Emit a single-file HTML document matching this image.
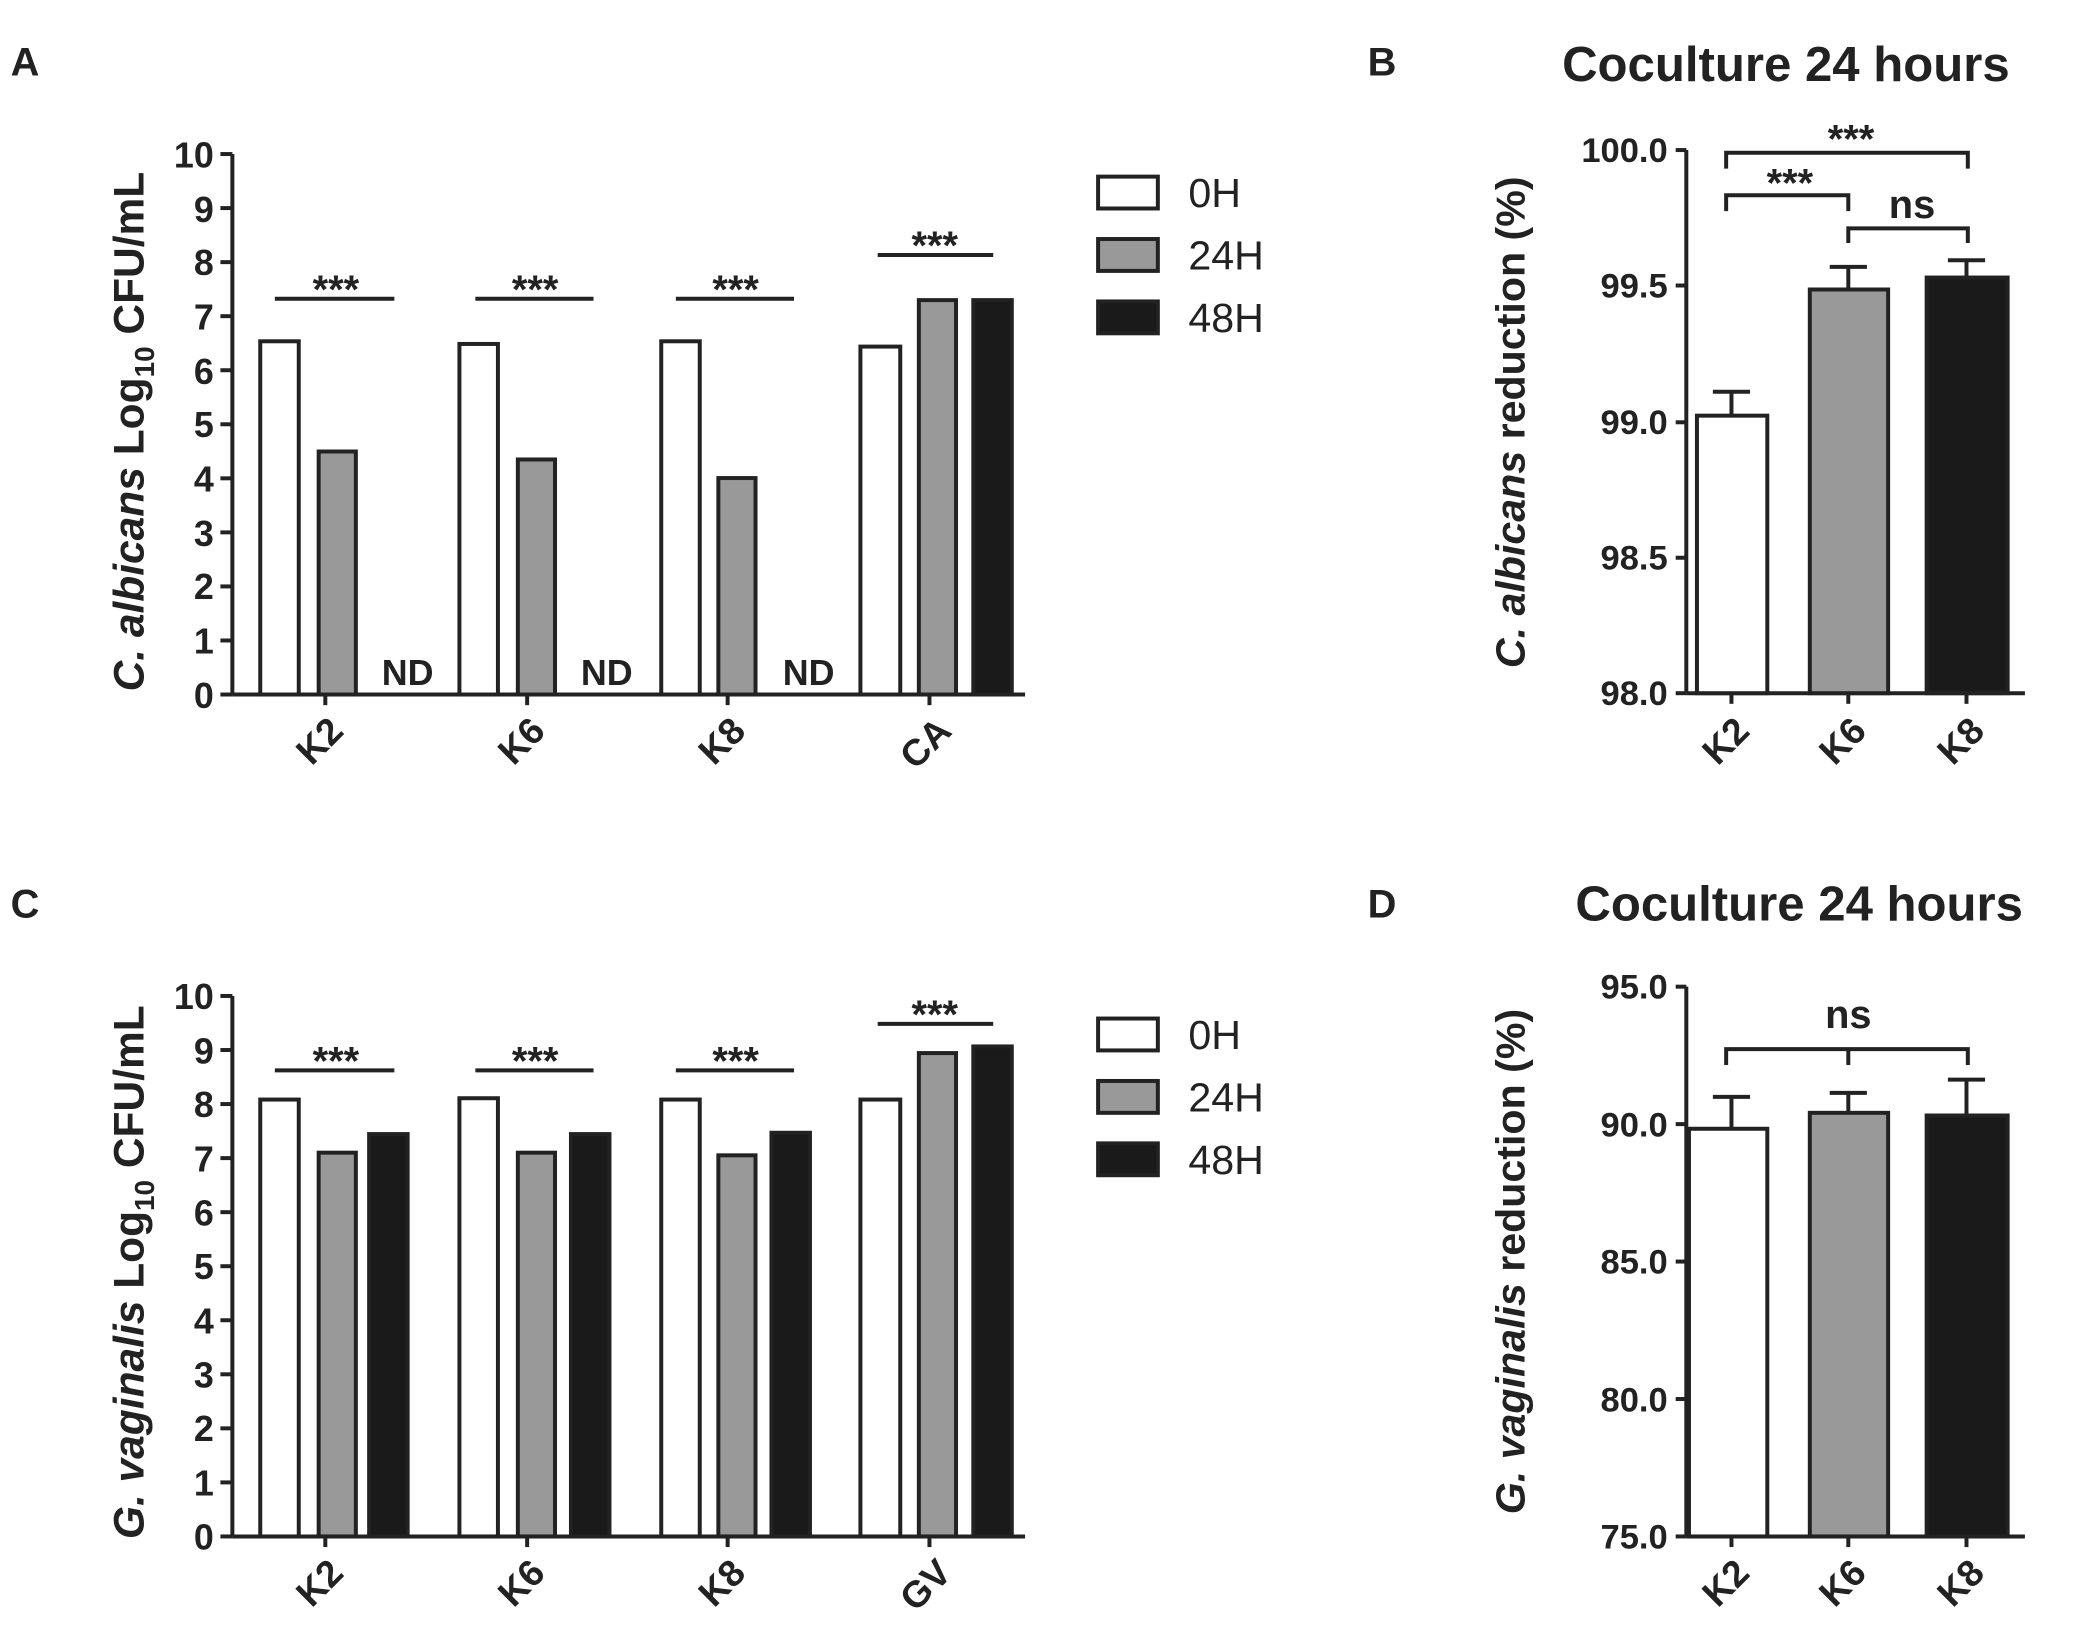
<!DOCTYPE html>
<html><head><meta charset="utf-8"><style>html,body{margin:0;padding:0;background:#fff}svg{display:block}text{font-family:"Liberation Sans",Arial,sans-serif}</style></head><body>
<svg width="2082" height="1648" viewBox="0 0 1568 1241" preserveAspectRatio="none" xmlns="http://www.w3.org/2000/svg">
<rect width="1568" height="1241" fill="#fff"/>
<g font-weight="bold" font-size="30" fill="#222">
<text x="8" y="57">A</text><text x="1030" y="57">B</text><text x="8" y="691">C</text><text x="1030" y="691">D</text>
</g>
<!-- Panel A -->
<g stroke="#222" stroke-width="3" fill="none">
<line x1="175" y1="116" x2="175" y2="523"/><line x1="175" y1="523" x2="772" y2="523"/>
</g>
<g stroke="#222" stroke-width="3">
<line x1="166" y1="523" x2="175" y2="523"/><line x1="166" y1="482.3" x2="175" y2="482.3"/><line x1="166" y1="441.6" x2="175" y2="441.6"/><line x1="166" y1="400.9" x2="175" y2="400.9"/><line x1="166" y1="360.2" x2="175" y2="360.2"/><line x1="166" y1="319.5" x2="175" y2="319.5"/><line x1="166" y1="278.8" x2="175" y2="278.8"/><line x1="166" y1="238.1" x2="175" y2="238.1"/><line x1="166" y1="197.4" x2="175" y2="197.4"/><line x1="166" y1="156.7" x2="175" y2="156.7"/><line x1="166" y1="116" x2="175" y2="116"/>
<line x1="245" y1="523" x2="245" y2="531"/><line x1="397" y1="523" x2="397" y2="531"/><line x1="548" y1="523" x2="548" y2="531"/><line x1="700" y1="523" x2="700" y2="531"/>
</g>
<g font-size="27" font-weight="bold" fill="#222" text-anchor="end">
<text x="161" y="533">0</text><text x="161" y="492">1</text><text x="161" y="451">2</text><text x="161" y="411">3</text><text x="161" y="370">4</text><text x="161" y="329">5</text><text x="161" y="289">6</text><text x="161" y="248">7</text><text x="161" y="207">8</text><text x="161" y="167">9</text><text x="161" y="126">10</text>
</g>
<g stroke="#222" stroke-width="3">
<rect x="196" y="257" width="29" height="266" fill="#fff"/><rect x="240" y="340" width="28" height="183" fill="#999"/>
<rect x="346" y="259" width="29" height="264" fill="#fff"/><rect x="390" y="346" width="28" height="177" fill="#999"/>
<rect x="498" y="257" width="29" height="266" fill="#fff"/><rect x="541" y="360" width="28" height="163" fill="#999"/>
<rect x="648" y="261" width="30" height="262" fill="#fff"/><rect x="692" y="226" width="28" height="297" fill="#999"/><rect x="733" y="226" width="29" height="297" fill="#1a1a1a"/>
<line x1="207" y1="225" x2="297" y2="225"/><line x1="358" y1="225" x2="447" y2="225"/><line x1="509" y1="225" x2="598" y2="225"/><line x1="661" y1="192" x2="748" y2="192"/>
</g>
<g font-size="30" font-weight="bold" fill="#222" text-anchor="middle">
<text x="253" y="228">***</text><text x="403" y="228">***</text><text x="554" y="228">***</text><text x="704" y="195">***</text>
</g>
<g font-size="27" font-weight="bold" fill="#222" text-anchor="middle">
<text x="307" y="516">ND</text><text x="457" y="516">ND</text><text x="609" y="516">ND</text>
</g>
<g font-size="28" font-weight="bold" fill="#222" text-anchor="end">
<text transform="translate(260,552) rotate(-45)">K2</text><text transform="translate(412,552) rotate(-45)">K6</text><text transform="translate(563,552) rotate(-45)">K8</text><text transform="translate(718,552) rotate(-45)">CA</text>
</g>
<text transform="translate(108,325) rotate(-90)" text-anchor="middle" font-size="32" font-weight="bold" fill="#222"><tspan font-style="italic">C. albicans</tspan> Log<tspan font-size="21" dy="8">10</tspan><tspan dy="-8">  CFU/mL</tspan></text>
<g stroke="#222" stroke-width="3"><rect x="827" y="133" width="45" height="24" fill="#fff"/><rect x="827" y="180" width="45" height="24" fill="#999"/><rect x="827" y="227" width="45" height="24" fill="#1a1a1a"/></g>
<g font-size="31" fill="#222"><text x="895" y="156">0H</text><text x="895" y="203">24H</text><text x="895" y="250">48H</text></g>

<!-- Panel C -->
<g stroke="#222" stroke-width="3" fill="none">
<line x1="175" y1="750" x2="175" y2="1157"/><line x1="175" y1="1157" x2="772" y2="1157"/>
</g>
<g stroke="#222" stroke-width="3">
<line x1="166" y1="1157" x2="175" y2="1157"/><line x1="166" y1="1116.3" x2="175" y2="1116.3"/><line x1="166" y1="1075.6" x2="175" y2="1075.6"/><line x1="166" y1="1034.9" x2="175" y2="1034.9"/><line x1="166" y1="994.2" x2="175" y2="994.2"/><line x1="166" y1="953.5" x2="175" y2="953.5"/><line x1="166" y1="912.8" x2="175" y2="912.8"/><line x1="166" y1="872.1" x2="175" y2="872.1"/><line x1="166" y1="831.4" x2="175" y2="831.4"/><line x1="166" y1="790.7" x2="175" y2="790.7"/><line x1="166" y1="750" x2="175" y2="750"/>
<line x1="245" y1="1157" x2="245" y2="1165"/><line x1="397" y1="1157" x2="397" y2="1165"/><line x1="548" y1="1157" x2="548" y2="1165"/><line x1="700" y1="1157" x2="700" y2="1165"/>
</g>
<g font-size="27" font-weight="bold" fill="#222" text-anchor="end">
<text x="161" y="1167">0</text><text x="161" y="1126">1</text><text x="161" y="1085">2</text><text x="161" y="1045">3</text><text x="161" y="1004">4</text><text x="161" y="963">5</text><text x="161" y="923">6</text><text x="161" y="882">7</text><text x="161" y="841">8</text><text x="161" y="801">9</text><text x="161" y="760">10</text>
</g>
<g stroke="#222" stroke-width="3">
<rect x="196" y="828" width="29" height="329" fill="#fff"/><rect x="240" y="868" width="28" height="289" fill="#999"/><rect x="278" y="854" width="29" height="303" fill="#1a1a1a"/>
<rect x="346" y="827" width="29" height="330" fill="#fff"/><rect x="390" y="868" width="28" height="289" fill="#999"/><rect x="430" y="854" width="29" height="303" fill="#1a1a1a"/>
<rect x="498" y="828" width="29" height="329" fill="#fff"/><rect x="541" y="870" width="28" height="287" fill="#999"/><rect x="581" y="853" width="29" height="304" fill="#1a1a1a"/>
<rect x="648" y="828" width="30" height="329" fill="#fff"/><rect x="692" y="793" width="28" height="364" fill="#999"/><rect x="733" y="788" width="29" height="369" fill="#1a1a1a"/>
<line x1="207" y1="806" x2="297" y2="806"/><line x1="358" y1="806" x2="447" y2="806"/><line x1="509" y1="806" x2="598" y2="806"/><line x1="661" y1="771" x2="748" y2="771"/>
</g>
<g font-size="30" font-weight="bold" fill="#222" text-anchor="middle">
<text x="253" y="809">***</text><text x="403" y="809">***</text><text x="554" y="809">***</text><text x="704" y="774">***</text>
</g>
<g font-size="28" font-weight="bold" fill="#222" text-anchor="end">
<text transform="translate(260,1186) rotate(-45)">K2</text><text transform="translate(412,1186) rotate(-45)">K6</text><text transform="translate(563,1186) rotate(-45)">K8</text><text transform="translate(718,1186) rotate(-45)">GV</text>
</g>
<text transform="translate(108,958) rotate(-90)" text-anchor="middle" font-size="32" font-weight="bold" fill="#222"><tspan font-style="italic">G. vaginalis</tspan> Log<tspan font-size="21" dy="8">10</tspan><tspan dy="-8">  CFU/mL</tspan></text>
<g stroke="#222" stroke-width="3"><rect x="827" y="767" width="45" height="24" fill="#fff"/><rect x="827" y="814" width="45" height="24" fill="#999"/><rect x="827" y="861" width="45" height="24" fill="#1a1a1a"/></g>
<g font-size="31" fill="#222"><text x="895" y="790">0H</text><text x="895" y="837">24H</text><text x="895" y="884">48H</text></g>

<!-- Panel B -->
<text x="1345" y="61" text-anchor="middle" font-size="37" font-weight="bold" fill="#222">Coculture 24 hours</text>
<g stroke="#222" stroke-width="3" fill="none">
<line x1="1270" y1="113" x2="1270" y2="522"/><line x1="1270" y1="522" x2="1525" y2="522"/>
<line x1="1262" y1="113" x2="1270" y2="113"/><line x1="1262" y1="215" x2="1270" y2="215"/><line x1="1262" y1="318" x2="1270" y2="318"/><line x1="1262" y1="420" x2="1270" y2="420"/><line x1="1262" y1="522" x2="1270" y2="522"/>
<line x1="1304" y1="522" x2="1304" y2="530"/><line x1="1392" y1="522" x2="1392" y2="530"/><line x1="1481" y1="522" x2="1481" y2="530"/>
<line x1="1304" y1="295" x2="1304" y2="313"/><line x1="1290" y1="295" x2="1318" y2="295"/>
<line x1="1392" y1="201" x2="1392" y2="218"/><line x1="1378" y1="201" x2="1406" y2="201"/>
<line x1="1481" y1="196" x2="1481" y2="209"/><line x1="1467" y1="196" x2="1495" y2="196"/>
<polyline points="1300,159 1300,147 1392,147 1392,159"/>
<polyline points="1300,127 1300,115 1482,115 1482,127"/>
<polyline points="1392,183 1392,172 1482,172 1482,183"/>
</g>
<g stroke="#222" stroke-width="3">
<rect x="1278" y="313" width="53" height="209" fill="#fff"/><rect x="1363" y="218" width="59" height="304" fill="#999"/><rect x="1451" y="209" width="61" height="313" fill="#1a1a1a"/>
</g>
<g font-size="26" font-weight="bold" fill="#222" text-anchor="end">
<text x="1256" y="122">100.0</text><text x="1256" y="224">99.5</text><text x="1256" y="327">99.0</text><text x="1256" y="429">98.5</text><text x="1256" y="531">98.0</text>
</g>
<g font-size="30" font-weight="bold" fill="#222" text-anchor="middle"><text x="1348" y="148">***</text><text x="1394" y="115">***</text><text x="1440" y="164" font-size="30">ns</text></g>
<g font-size="28" font-weight="bold" fill="#222" text-anchor="end">
<text transform="translate(1319,552) rotate(-45)">K2</text><text transform="translate(1407,552) rotate(-45)">K6</text><text transform="translate(1496,552) rotate(-45)">K8</text>
</g>
<text transform="translate(1148,318) rotate(-90)" text-anchor="middle" font-size="31" font-weight="bold" fill="#222"><tspan font-style="italic">C. albicans</tspan> reduction (%)</text>

<!-- Panel D -->
<text x="1355" y="693" text-anchor="middle" font-size="37" font-weight="bold" fill="#222">Coculture 24 hours</text>
<g stroke="#222" stroke-width="3" fill="none">
<line x1="1270" y1="743" x2="1270" y2="1157"/><line x1="1270" y1="1157" x2="1525" y2="1157"/>
<line x1="1262" y1="743" x2="1270" y2="743"/><line x1="1262" y1="846.5" x2="1270" y2="846.5"/><line x1="1262" y1="950" x2="1270" y2="950"/><line x1="1262" y1="1053.5" x2="1270" y2="1053.5"/><line x1="1262" y1="1157" x2="1270" y2="1157"/>
<line x1="1304" y1="1157" x2="1304" y2="1165"/><line x1="1392" y1="1157" x2="1392" y2="1165"/><line x1="1481" y1="1157" x2="1481" y2="1165"/>
<line x1="1304" y1="826" x2="1304" y2="850"/><line x1="1290" y1="826" x2="1318" y2="826"/>
<line x1="1392" y1="823" x2="1392" y2="838"/><line x1="1378" y1="823" x2="1406" y2="823"/>
<line x1="1481" y1="813" x2="1481" y2="840"/><line x1="1467" y1="813" x2="1495" y2="813"/>
<polyline points="1300,802 1300,790 1482,790 1482,802"/><line x1="1392" y1="790" x2="1392" y2="802"/>
</g>
<g stroke="#222" stroke-width="3">
<rect x="1272" y="850" width="59" height="307" fill="#fff"/><rect x="1363" y="838" width="59" height="319" fill="#999"/><rect x="1451" y="840" width="61" height="317" fill="#1a1a1a"/>
</g>
<g font-size="26" font-weight="bold" fill="#222" text-anchor="end">
<text x="1256" y="752">95.0</text><text x="1256" y="856">90.0</text><text x="1256" y="959">85.0</text><text x="1256" y="1063">80.0</text><text x="1256" y="1166">75.0</text>
</g>
<text x="1392" y="774" text-anchor="middle" font-size="30" font-weight="bold" fill="#222">ns</text>
<g font-size="28" font-weight="bold" fill="#222" text-anchor="end">
<text transform="translate(1319,1186) rotate(-45)">K2</text><text transform="translate(1407,1186) rotate(-45)">K6</text><text transform="translate(1496,1186) rotate(-45)">K8</text>
</g>
<text transform="translate(1148,950) rotate(-90)" text-anchor="middle" font-size="31" font-weight="bold" fill="#222"><tspan font-style="italic">G. vaginalis</tspan> reduction (%)</text>
</svg>
</body></html>
